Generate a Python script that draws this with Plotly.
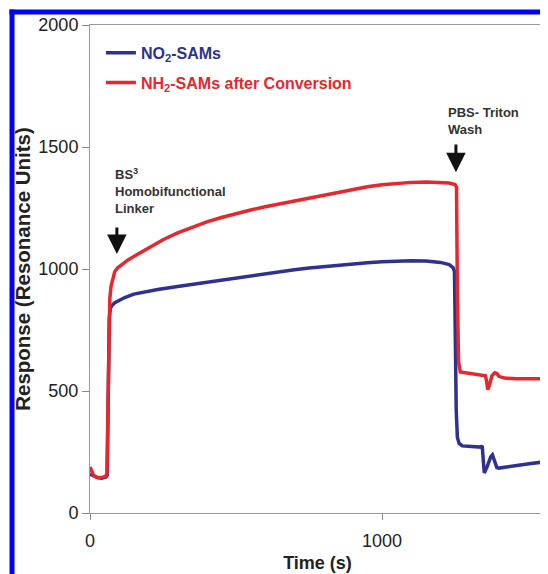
import plotly.graph_objects as go

# ---- data ----
t_no2 = [0, 10, 25, 40, 55, 59, 62, 66, 70, 75, 85, 100, 119, 150, 200, 232, 300, 345, 400, 457,
         500, 573, 600, 650, 700, 750, 800, 850, 900, 950, 1000, 1050, 1100, 1150, 1200, 1230,
         1243, 1248, 1251, 1254, 1258, 1264, 1275, 1300, 1338, 1343, 1346, 1350, 1360, 1372, 1378,
         1386, 1393, 1400, 1430, 1470, 1510, 1558]
r_no2 = [160, 155, 145, 143, 148, 155, 500, 800, 840, 850, 862, 873, 883, 897, 910, 916, 928, 936, 946, 957,
         964, 976, 981, 989, 997, 1004, 1010, 1016, 1021, 1026, 1030, 1033, 1034, 1033, 1027, 1018,
         1006, 990, 700, 420, 310, 285, 275, 272, 270, 275, 200, 164, 190, 230, 238,
         215, 186, 184, 190, 196, 203, 210]

t_nh2 = [0, 5, 12, 25, 40, 52, 58, 61, 64, 68, 72, 78, 85, 95, 110, 130, 160, 200, 250, 300, 350, 400,
         450, 500, 550, 600, 650, 700, 750, 800, 850, 900, 950, 1000, 1050, 1100, 1150, 1200, 1230,
         1250, 1255, 1258, 1262, 1268, 1300, 1340, 1354, 1358, 1362, 1368, 1376, 1386, 1393, 1400,
         1420, 1460, 1500, 1558]
r_nh2 = [189, 175, 155, 145, 145, 150, 160, 400, 700, 880, 930, 965, 990, 1005, 1020, 1037, 1058, 1085, 1120, 1148, 1172, 1193,
         1211, 1227, 1242, 1255, 1267, 1280, 1292, 1304, 1316, 1327, 1337, 1345, 1351, 1355, 1357, 1356, 1352,
         1346, 1335, 900, 620, 578, 572, 566, 562, 540, 505, 525, 562, 575, 572, 560,
         553, 550, 549, 550]

series_names = ['NO<sub>2</sub>-SAMs', 'NH<sub>2</sub>-SAMs after Conversion']
series_colors = ['#2E3192', '#E8262E']

x_ticks = [0, 1000]
y_ticks = [0, 500, 1000, 1500, 2000]

fig = go.Figure()
for i, (tx, ry) in enumerate([(t_no2, r_no2), (t_nh2, r_nh2)]):
    fig.add_trace(go.Scatter(
        x=tx, y=ry, mode='lines',
        line=dict(color=series_colors[i], width=3.5),
        name='<b><span style="color:%s">%s</span></b>' % (series_colors[i], series_names[i]),
        legendgroup='g%d' % i,
    ))

ann_font = dict(family='Arial, Liberation Sans', size=13, color='#333333')
annotations = [
    dict(x=78, y=1430, xref='x', yref='y', text='<b>BS<sup>3</sup><br>Homobifunctional<br>Linker</b>',
         showarrow=False, xanchor='left', yanchor='top', align='left', font=ann_font),
    dict(x=1220, y=1680, xref='x', yref='y', text='<b>PBS- Triton<br>Wash</b>',
         showarrow=False, xanchor='left', yanchor='top', align='left', font=ann_font),
    dict(x=92, y=1061, xref='x', yref='y', ax=92, ay=1176, axref='x', ayref='y', text='',
         showarrow=True, arrowhead=2, arrowsize=1.3, arrowwidth=3, arrowcolor='#111111'),
    dict(x=1253, y=1397, xref='x', yref='y', ax=1253, ay=1516, axref='x', ayref='y', text='',
         showarrow=True, arrowhead=2, arrowsize=1.3, arrowwidth=3, arrowcolor='#111111'),
]

# page has an 8px body margin: figure is 540x566 placed at (8,8)
OFF = 8
FW, FH = 548 - OFF, 574 - OFF
L, R, T, B = 90 - OFF, 3, 25 - OFF, 61
W = FW - L - R
H = FH - T - B
def px(xp):
    return (xp - OFF - L) / W
def py(yp):
    return (FH - B - (yp - OFF)) / H

shapes = [
    dict(type='rect', xref='paper', yref='paper', x0=px(9.5), x1=px(560), y0=py(14.5), y1=py(9.5),
         fillcolor='#0000FF', line=dict(width=0), layer='above'),
    dict(type='rect', xref='paper', yref='paper', x0=px(9.5), x1=px(14.5), y0=py(590), y1=py(9.5),
         fillcolor='#0000FF', line=dict(width=0), layer='above'),
]

fig.update_layout(
    width=FW, height=FH,
    margin=dict(l=L, r=R, t=T, b=B),
    paper_bgcolor='white', plot_bgcolor='white',
    font=dict(family='Arial, Liberation Sans', color='#222222'),
    showlegend=True,
    legend=dict(x=0.024, y=0.978, xanchor='left', yanchor='top', bgcolor='rgba(0,0,0,0)',
                font=dict(size=16, family='Arial, Liberation Sans'), tracegroupgap=6,
                traceorder='grouped'),
    annotations=annotations,
    shapes=shapes,
    xaxis=dict(range=[0, 1558], tickvals=x_ticks, ticks='outside', ticklen=6, tickcolor='#888888',
               showline=True, linecolor='#999999', linewidth=1, mirror=True, showgrid=False, zeroline=False,
               tickfont=dict(size=18), automargin=False, ticklabelstandoff=5,
               title=dict(text='<b>Time (s)</b>', font=dict(size=18), standoff=6)),
    yaxis=dict(range=[0, 2000], tickvals=y_ticks, ticks='outside', ticklen=7, tickcolor='#888888',
               showline=True, linecolor='#999999', linewidth=1, mirror=True, showgrid=False, zeroline=False,
               tickfont=dict(size=18), automargin=False,
               title=dict(text='<b>Response (Resonance Units)</b>', font=dict(size=20.5), standoff=2)),
)

fig.write_html('out.html')
